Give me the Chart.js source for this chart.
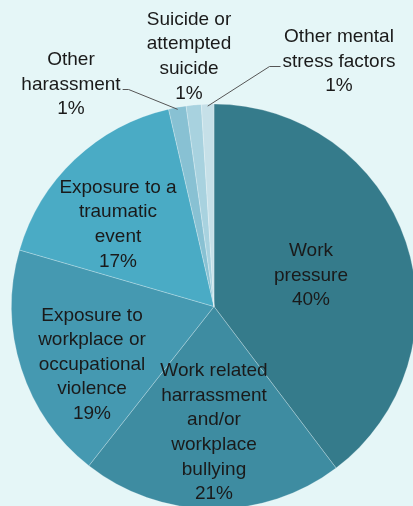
<!DOCTYPE html>
<html>
<head>
<meta charset="utf-8">
<script src="https://cdn.jsdelivr.net/npm/chart.js@4"></script>
<style>
html,body{margin:0;padding:0;background:#e5f6f7;overflow:hidden;width:413px;height:506px;}
#wrap{position:absolute;left:0;top:0;width:430px;height:520px;}
</style>
</head>
<body>
<div id="wrap"><canvas id="c"></canvas></div>
<script>
const categories = [
  ["Work","pressure"],
  ["Work related","harrassment","and/or","workplace","bullying"],
  ["Exposure to","workplace or","occupational","violence"],
  ["Exposure to a","traumatic","event"],
  ["Other","harassment"],
  ["Suicide or","attempted","suicide"],
  ["Other mental","stress factors"]
];
const values = [39.7, 20.9, 18.9, 16.9, 1.4, 1.2, 1.0];
const pctLabels = ["40%", "21%", "19%", "17%", "1%", "1%", "1%"];
const colors = ["#357b8b","#3e8ca1","#4599b1","#4aabc5","#88c1d3","#a8d2df","#c6e0e8"];

// label placement offsets from the pie centre
const labelPlace = [
  {dx:97, dy:-31},
  {dx:0, dy:126},
  {dx:-122, dy:58},
  {dx:-96, dy:-82},
  {dx:-143, dy:-222, leader:true, side:"right"},
  {dx:-25, dy:-250, leader:false},
  {dx:125, dy:-245, leader:true, side:"left"}
];

const labelPlugin = {
  id:"labels",
  afterDatasetsDraw(chart){
    const ctx = chart.ctx;
    const meta = chart.getDatasetMeta(0);
    const lh = 24.6;
    ctx.save();
    ctx.font = "19px 'Liberation Sans', Arial, sans-serif";
    ctx.fillStyle = "#1a1a1a";
    ctx.textAlign = "center";
    ctx.textBaseline = "middle";
    meta.data.forEach((arc, i) => {
      const p = arc.getProps(["x","y","startAngle","endAngle","outerRadius"], true);
      const mid = (p.startAngle + p.endAngle)/2;
      const lines = categories[i].concat([pctLabels[i]]);
      const pl = labelPlace[i];
      const cx = p.x + pl.dx;
      const cy = p.y + pl.dy;
      const top = cy - (lines.length-1)*lh/2;
      lines.forEach((t, k) => ctx.fillText(t, cx, top + k*lh));
      if (pl.leader) {
        const ex = p.x + Math.cos(mid)*p.outerRadius*0.99;
        const ey = p.y + Math.sin(mid)*p.outerRadius*0.99;
        ctx.beginPath();
        ctx.strokeStyle = "#555";
        ctx.lineWidth = 1;
        let sx, sy;
        if (pl.side === "right") {
          const w = ctx.measureText(lines[lines.length-2]).width;
          sx = cx + w/2 + 2; sy = top + (lines.length-2)*lh + 5;
          ctx.moveTo(sx, sy); ctx.lineTo(sx+6, sy);
          ctx.lineTo(ex, ey);
        } else {
          const w = ctx.measureText(lines[1]).width;
          sx = cx - w/2 - 2; sy = top + lh + 5;
          ctx.moveTo(sx, sy); ctx.lineTo(sx-11, sy);
          ctx.lineTo(ex, ey);
        }
        ctx.stroke();
      }
    });
    ctx.restore();
  }
};

new Chart(document.getElementById("c"), {
  type: "pie",
  data: {
    labels: categories.map(c => c.join(" ")),
    datasets: [{
      data: values,
      backgroundColor: colors,
      borderColor: "rgba(255,255,255,0.25)",
      borderWidth: 1
    }]
  },
  options: {
    responsive: true,
    maintainAspectRatio: false,
    animation: false,
    layout: {padding: {left: 11, right: 13, top: 103, bottom: 10}},
    plugins: {legend: {display:false}, tooltip: {enabled:false}}
  },
  plugins: [labelPlugin]
});
</script>
</body>
</html>
